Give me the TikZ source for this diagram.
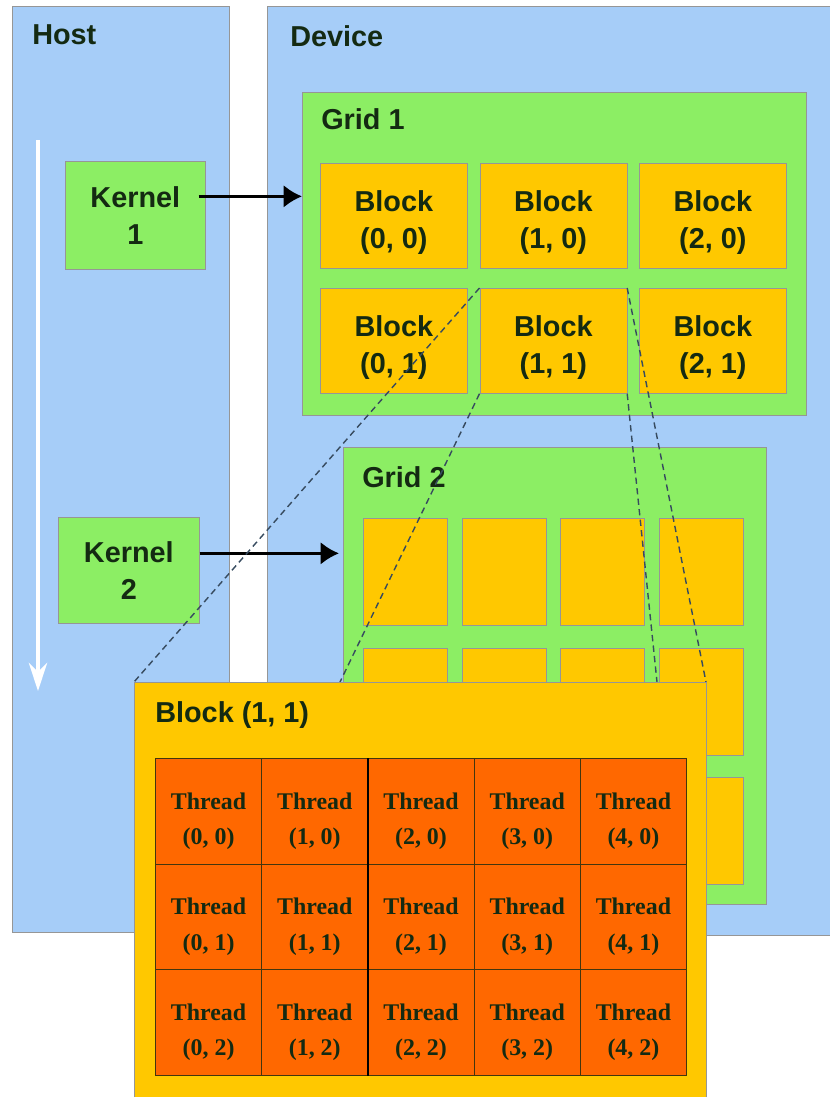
\documentclass[tikz,border=0pt]{standalone}
\usepackage{fontspec}
\setmainfont{Liberation Sans}
\newfontfamily\threadfont{Liberation Serif}
\usetikzlibrary{arrows.meta,calc}
\newcommand{\upx}{0.025cm}
% texte sur deux lignes, descendu sans changer la taille de la boîte
\newcommand{\deuxlignes}[3]{\raisebox{-#1}[\height][\depth]{\begin{tabular}{@{}c@{}}#2\\#3\end{tabular}}}
\definecolor{ciel}{RGB}{166,205,248}
\definecolor{vert}{RGB}{140,238,100}
\definecolor{jaune}{RGB}{255,200,0}
\definecolor{brique}{RGB}{255,104,0}
\definecolor{encre}{RGB}{20,42,18}
\definecolor{bord}{RGB}{150,150,150}
\definecolor{tiret}{RGB}{55,75,95}
\tikzset{
  boite/.style={draw=bord,line width=0.5pt,inner sep=0,anchor=north west,align=center,
    text=encre,font=\fontsize{20.5}{26}\selectfont\bfseries},
  titre/.style={anchor=base west,inner sep=0,text=encre,font=\fontsize{20.5}{26}\selectfont\bfseries},
  cellule/.style={draw=encre!80!brique,line width=0.7pt,fill=brique,inner sep=0,anchor=north west,
    text=encre,font=\threadfont\bfseries\fontsize{17}{25}\selectfont},
  fleche/.style={black,line width=2pt,-{Latex[length=13pt,width=16pt]}},
  lien/.style={tiret,line width=1pt,dash pattern=on 4.5pt off 3pt}
}

\begin{document}
\begin{tikzpicture}[x=0.025cm,y=-0.025cm]
  % --- Cadre ---
  \fill[white] (0,0) rectangle (829,1097);
  \useasboundingbox (0,0) rectangle (829,1097);

  % --- Host / Device ---
  \node[boite,fill=ciel,minimum width=217*\upx,minimum height=926*\upx] (host) at (12,6) {};
  \node[boite,fill=ciel,minimum width=580*\upx,minimum height=929*\upx] (device) at (267,6) {};
  \node[titre] (lhost) at (32,45) {Host};
  \node[titre] (ldevice) at (290,47) {Device};

  % --- Grid 1 : 3 x 2 blocs ---
  \node[boite,fill=vert,minimum width=504*\upx,minimum height=323*\upx] (g1) at (302,92) {};
  \node[titre] (lg1) at (321,130) {Grid 1};
  \foreach \i in {0,1,2}{%
    \foreach \j in {0,1}{%
      \pgfmathsetmacro{\xb}{320+159.5*\i}
      \pgfmathsetmacro{\yb}{163+125*\j}
      \node[boite,fill=jaune,minimum width=147*\upx,minimum height=105*\upx]
        (g1-\i-\j) at (\xb,\yb) {\deuxlignes{5pt}{Block}{(\i, \j)}};
    }
  }

  % --- Grid 2 : 4 x 3 blocs vides ---
  \node[boite,fill=vert,minimum width=423*\upx,minimum height=457*\upx] (g2) at (343,447) {};
  \node[titre] (lg2) at (362,487) {Grid 2};
  \foreach \i in {0,...,3}{%
    \foreach \j in {0,1,2}{%
      \pgfmathsetmacro{\xb}{363+98.7*\i}
      \pgfmathsetmacro{\yb}{518+129.5*\j}
      \node[boite,fill=jaune,minimum width=84*\upx,minimum height=107*\upx] (g2-\i-\j) at (\xb,\yb) {};
    }
  }

  % --- Kernels et flèches ---
  \node[boite,fill=vert,minimum width=140*\upx,minimum height=108*\upx] (k1) at (65,161) {Kernel\\1};
  \node[boite,fill=vert,minimum width=141*\upx,minimum height=106*\upx] (k2) at (58,517) {Kernel\\2};
  \coordinate (k1s) at ($(k1.east)+(-7,-19)$);
  \coordinate (k2s) at ($(k2.east)+(0,-17)$);
  \draw[fleche] (k1s) -- (k1s -| g1.west);
  \draw[fleche] (k2s) -- ($(k2s -| g2.west)+(-4,0)$);
  % axe du temps côté hôte
  \coordinate (t0) at (38,140);
  \coordinate (t1) at (38,691);
  \draw[white,line width=2.6pt,-{Stealth[length=20pt,width=13pt]}] (t0) -- (t1);

  % --- Liens pointillés vers le bloc (1, 1) ---
  \coordinate (b11nw) at (134,682);
  \coordinate (b11ne) at (706,682);
  \coordinate (p1) at (340,682);
  \coordinate (p2) at (657,682);
  \draw[lien] (g1-1-1.north west) -- (b11nw);
  \draw[lien] (g1-1-1.south west) -- (p1);
  \draw[lien] (g1-1-1.north east) -- (b11ne);
  \draw[lien] (g1-1-1.south east) -- (p2);

  % --- Block (1, 1) : 5 x 3 threads ---
  \node[boite,fill=jaune,minimum width=572*\upx,minimum height=440*\upx] (b11) at (b11nw) {};
  \node[titre] (lb11) at (155,722) {Block (1, 1)};
  \foreach \i in {0,...,4}{%
    \foreach \j in {0,1,2}{%
      \pgfmathsetmacro{\xb}{155+106.2*\i}
      \pgfmathsetmacro{\yb}{758+105.7*\j}
      \node[cellule,minimum width=106.2*\upx,minimum height=105.7*\upx]
        (t-\i-\j) at (\xb,\yb) {\deuxlignes{6pt}{Thread}{(\i, \j)}};
    }
  }
  \draw[black,line width=1.3pt] (t-1-0.north east) -- (t-1-2.south east);
\end{tikzpicture}
\end{document}
